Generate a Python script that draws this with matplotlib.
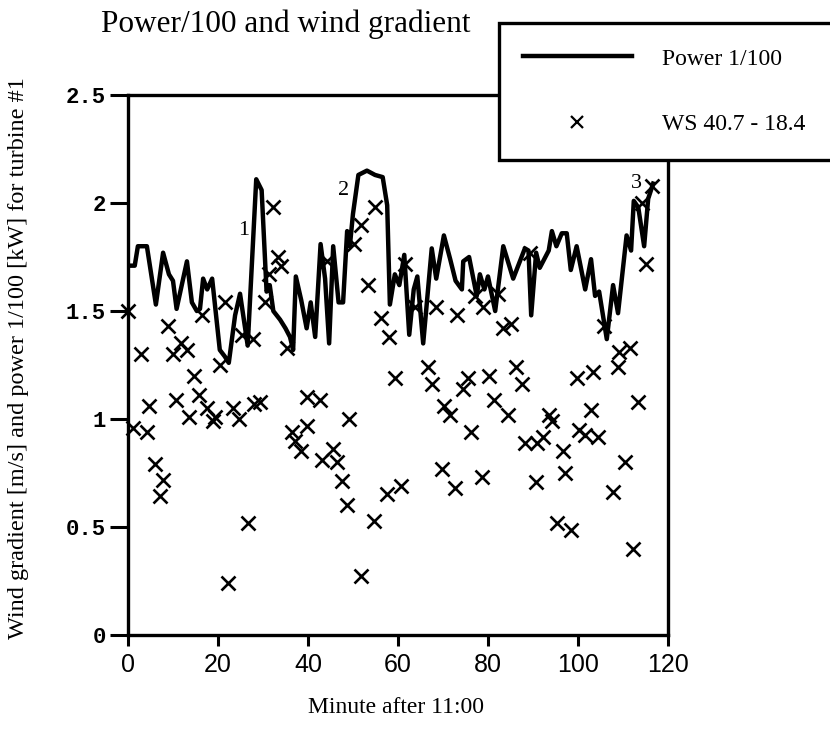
import matplotlib.pyplot as plt
from matplotlib.lines import Line2D
from matplotlib.patches import Rectangle

# Power/100 (minute, value)
power_min = [0, 1.5, 2.2, 4.2, 6.2, 7.8, 9.1, 10.0, 10.8, 13.1, 14.2, 15.3, 16.0,
             16.7, 17.6, 18.7, 20.4, 21.5, 22.4, 23.8, 24.9, 26.6, 28.5, 29.7,
             30.8, 31.5, 32.3, 33.8, 35.0, 36.0, 36.7, 37.3, 38.5, 39.7, 40.6,
             41.6, 42.8, 43.8, 44.7, 45.6, 46.8, 47.8, 48.7, 49.3, 50.0, 51.2,
             53.1, 54.9, 56.6, 57.6, 58.2, 59.3, 60.3, 61.4, 62.5, 63.5, 64.3,
             65.6, 67.5, 68.5, 70.2, 71.6, 72.8, 74.2, 74.5, 75.8, 77.5, 78.2,
             79.2, 80.0, 81.6, 83.4, 85.6, 88.2, 89.0, 89.6, 90.7, 91.5, 93.5,
             94.2, 95.2, 96.4, 97.5, 98.4, 99.7, 101.6, 102.9, 103.8, 104.7,
             106.4, 107.8, 108.9, 110.8, 111.8, 112.4, 113.4, 114.7, 115.6, 116.7]
power_val = [1.71, 1.71, 1.80, 1.80, 1.53, 1.77, 1.67, 1.64, 1.51, 1.73, 1.54, 1.50, 1.51,
             1.65, 1.60, 1.65, 1.32, 1.29, 1.26, 1.48, 1.58, 1.34, 2.11, 2.06,
             1.59, 1.62, 1.50, 1.46, 1.42, 1.38, 1.32, 1.66, 1.55, 1.42, 1.54,
             1.38, 1.81, 1.65, 1.35, 1.80, 1.54, 1.54, 1.87, 1.80, 1.95, 2.13,
             2.15, 2.13, 2.12, 1.99, 1.53, 1.67, 1.62, 1.76, 1.39, 1.60, 1.66,
             1.35, 1.79, 1.65, 1.85, 1.74, 1.64, 1.60, 1.73, 1.75, 1.57, 1.67,
             1.60, 1.66, 1.50, 1.80, 1.65, 1.79, 1.78, 1.48, 1.77, 1.70, 1.78,
             1.87, 1.80, 1.86, 1.86, 1.69, 1.80, 1.60, 1.74, 1.57, 1.59,
             1.37, 1.62, 1.49, 1.85, 1.78, 2.01, 1.98, 1.80, 2.02, 2.09]

# wind gradient WS 40.7 - 18.4
ws_min = [0.0, 1.1, 2.9, 4.2, 4.7, 6.0, 7.1, 7.8, 8.9, 10.0, 10.7, 11.8, 13.1, 13.6,
          14.7, 15.8, 16.4, 17.6, 18.9, 19.3, 20.4, 21.6, 22.3, 23.3, 24.7, 25.3,
          26.6, 27.8, 28.0, 29.3, 30.4, 31.4, 32.2, 33.4, 34.1, 35.3, 36.4, 37.1,
          38.4, 39.7, 39.8, 42.7, 43.1, 44.2, 45.6, 46.4, 47.5, 48.7, 49.1, 50.3,
          51.7, 51.8, 53.3, 54.7, 54.9, 56.2, 57.6, 58.0, 59.3, 60.6, 61.6, 63.8,
          66.7, 67.6, 68.5, 69.8, 70.2, 71.6, 72.7, 73.1, 74.4, 75.6, 76.2, 77.1,
          78.6, 78.9, 80.2, 81.3, 82.2, 83.3, 84.5, 85.1, 86.2, 87.5, 88.2, 89.3,
          90.6, 90.8, 92.3, 93.6, 94.2, 95.3, 96.6, 97.2, 98.4, 99.7, 100.3, 101.6,
          102.9, 103.3, 104.5, 105.7, 107.8, 108.9, 109.2, 110.4, 111.5, 112.2,
          113.4, 114.2, 115.1, 116.4]
ws_val = [1.50, 0.96, 1.30, 0.94, 1.06, 0.79, 0.645, 0.72, 1.43, 1.30, 1.09, 1.35, 1.32, 1.01,
          1.20, 1.11, 1.48, 1.05, 0.99, 1.01, 1.25, 1.54, 0.24, 1.05, 1.00, 1.39,
          0.52, 1.37, 1.07, 1.08, 1.54, 1.67, 1.98, 1.75, 1.71, 1.33, 0.94, 0.90,
          0.85, 1.10, 0.97, 1.09, 0.81, 1.73, 0.86, 0.80, 0.715, 0.60, 1.00, 1.81,
          0.275, 1.90, 1.62, 0.53, 1.98, 1.47, 0.655, 1.38, 1.19, 0.69, 1.72, 1.52,
          1.24, 1.16, 1.52, 0.77, 1.06, 1.02, 0.68, 1.48, 1.14, 1.19, 0.94, 1.57,
          0.73, 1.52, 1.20, 1.09, 1.58, 1.42, 1.02, 1.44, 1.24, 1.16, 0.89, 1.77,
          0.71, 0.89, 0.915, 1.02, 0.99, 0.52, 0.85, 0.75, 0.485, 1.19, 0.95, 0.925,
          1.04, 1.22, 0.915, 1.43, 0.66, 1.24, 1.31, 0.80, 1.33, 0.40,
          1.08, 2.00, 1.72, 2.08]

# event markers on the power curve
event_labels = ['1', '2', '3']
event_min = [25.8, 48.0, 112.9]
event_val = [1.875, 2.06, 2.09]

xticks = [0, 20, 40, 60, 80, 100, 120]
yticks = [0, 0.5, 1, 1.5, 2, 2.5]
ytick_labels = ['0', '0.5', '1', '1.5', '2', '2.5']

serif = 'Liberation Serif'

fig = plt.figure(figsize=(8.3, 7.39), dpi=100)
ax = fig.add_axes([0.1542, 0.1407, 0.6506, 0.7307])

ax.plot(power_min, power_val, color='black', linewidth=3.2, label='Power 1/100')
ax.plot(ws_min, ws_val, linestyle='none', marker='x', markersize=10,
        markeredgewidth=1.9, color='black', clip_on=False, label='WS 40.7 - 18.4')

for lab, xm, yv in zip(event_labels, event_min, event_val):
    ax.text(xm, yv, lab, ha='center', va='center', fontsize=16, family=serif)

ax.set_xlim(0, 120)
ax.set_ylim(0, 2.5)
ax.set_xticks(xticks)
ax.set_yticks(yticks)
ax.set_yticklabels(ytick_labels)
for s in ax.spines.values():
    s.set_linewidth(2.4)
ax.tick_params(axis='x', direction='out', length=8, width=2.2, pad=5, labelsize=18)
ax.tick_params(axis='y', direction='out', length=13, width=2.2, pad=3, labelsize=16)
for t in ax.get_xticklabels():
    t.set_family(['Liberation Sans Narrow', 'Liberation Sans'])
for t in ax.get_yticklabels():
    t.set_family('Liberation Mono')
    t.set_weight('bold')

fig.text(0.122, 0.957, 'Power/100 and wind gradient', fontsize=22.5, family=serif,
         ha='left', va='baseline')
fig.text(0.022, 0.515, 'Wind gradient [m/s] and power 1/100 [kW] for turbine #1',
         rotation=90, ha='center', va='center', fontsize=17.5, family=serif)
fig.text(0.477, 0.042, 'Minute after 11:00', ha='center', va='center',
         fontsize=17, family=serif)

# legend box sticks out over the top right of the axes
box = Rectangle((0.601, 0.7835), 0.42, 0.1855, transform=fig.transFigure,
                facecolor='white', edgecolor='black', linewidth=2.4, zorder=5)
fig.add_artist(box)
handles = [Line2D([], [], color='black', linewidth=3.2),
           Line2D([], [], linestyle='none', marker='x', markersize=8,
                  markeredgewidth=1.6, color='black')]
leg = fig.legend(handles, ['Power 1/100', 'WS 40.7 - 18.4'], loc='upper left',
                 bbox_to_anchor=(0.630, 0.935), frameon=False, borderpad=0,
                 borderaxespad=0, handlelength=4.6, handletextpad=1.3,
                 labelspacing=1.85, prop={'family': serif, 'size': 17})
leg.set_zorder(6)

fig.savefig('out.png', dpi=100)
